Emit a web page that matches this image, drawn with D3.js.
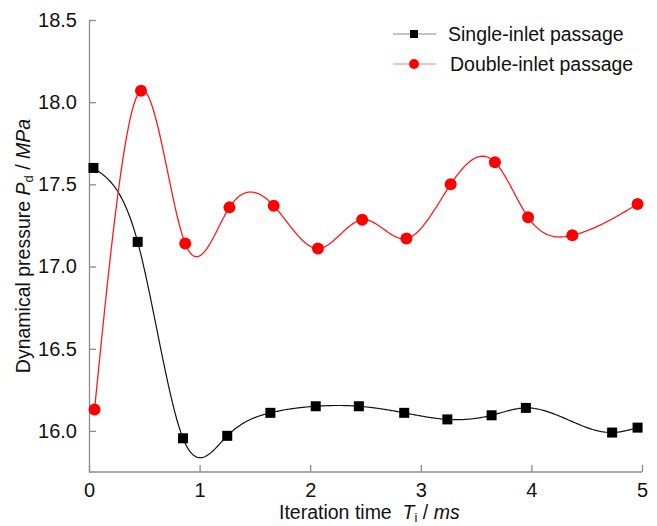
<!DOCTYPE html>
<html><head><meta charset="utf-8">
<script src="https://cdn.jsdelivr.net/npm/d3@7"></script>
<style>
body{margin:0;background:#fff;}
svg{font-family:"Liberation Sans",Arial,sans-serif;}
</style></head><body>
<svg id="c" width="657" height="526"></svg>
<script>
const singleX = [0.04,0.44,0.85,1.25,1.64,2.05,2.44,2.85,3.24,3.64,3.95,4.73,4.96];
const singleY = [17.60,17.15,15.955,15.97,16.11,16.15,16.15,16.11,16.07,16.095,16.14,15.99,16.02];
const doubleX = [0.05,0.47,0.87,1.27,1.67,2.07,2.47,2.87,3.27,3.67,3.97,4.37,4.96];
const doubleY = [16.13,18.07,17.14,17.36,17.37,17.11,17.285,17.17,17.50,17.635,17.30,17.19,17.38];
const xTicks = [0,1,2,3,4,5];
const yTicks = [16.0,16.5,17.0,17.5,18.0,18.5];
const seriesNames = ["Single-inlet passage","Double-inlet passage"];

const svg = d3.select("#c");
const x = d3.scaleLinear().domain([0,5]).range([89,642]);
const y = d3.scaleLinear().domain([15.75,18.5]).range([472,20]);
const axisColor = "#8c8c8c";
const FS = "19.5px";

// natural cubic spline y(x)
function spline(xs, ys){
  const n = xs.length;
  const h = [], a = [], l = [1], mu = [0], z = [0], c = new Array(n).fill(0), b = [], d = [];
  for(let i=0;i<n-1;i++) h[i] = xs[i+1]-xs[i];
  for(let i=1;i<n-1;i++) a[i] = 3/h[i]*(ys[i+1]-ys[i]) - 3/h[i-1]*(ys[i]-ys[i-1]);
  for(let i=1;i<n-1;i++){
    l[i] = 2*(xs[i+1]-xs[i-1]) - h[i-1]*mu[i-1];
    mu[i] = h[i]/l[i];
    z[i] = (a[i]-h[i-1]*z[i-1])/l[i];
  }
  l[n-1]=1; z[n-1]=0; c[n-1]=0;
  for(let j=n-2;j>=0;j--){
    c[j] = z[j]-mu[j]*c[j+1];
    b[j] = (ys[j+1]-ys[j])/h[j] - h[j]*(c[j+1]+2*c[j])/3;
    d[j] = (c[j+1]-c[j])/(3*h[j]);
  }
  const pts = [];
  for(let j=0;j<n-1;j++){
    const steps = 40;
    for(let k=0;k<=steps;k++){
      if(j>0 && k===0) continue;
      const t = h[j]*k/steps;
      pts.push([xs[j]+t, ys[j]+b[j]*t+c[j]*t*t+d[j]*t*t*t]);
    }
  }
  return pts;
}

// axes
const xAxis = d3.axisBottom(x).tickValues(xTicks).tickSizeInner(-7).tickSizeOuter(0).tickPadding(11).tickFormat(d3.format("d"));
const gx = svg.append("g").attr("transform","translate(0,472)").call(xAxis);
const yAxis = d3.axisLeft(y).tickValues(yTicks).tickSizeInner(-7).tickSizeOuter(0).tickPadding(12).tickFormat(d3.format(".1f"));
const gy = svg.append("g").attr("transform","translate(89,0)").call(yAxis);
[gx,gy].forEach(g=>{
  g.select(".domain").attr("stroke",axisColor).attr("stroke-width",1.3);
  g.selectAll(".tick line").attr("stroke",axisColor).attr("stroke-width",1.3);
  g.selectAll(".tick text").attr("fill","#111").style("font-size","20px").style("font-family","'Liberation Sans',Arial,sans-serif");
});
gx.select(".domain").attr("d","M89,0H642");

const line = d3.line().x(d=>x(d[0])).y(d=>y(d[1]));

svg.append("path").attr("d",line(spline(singleX,singleY))).attr("fill","none").attr("stroke","#111").attr("stroke-width",1.2);
svg.append("path").attr("d",line(spline(doubleX,doubleY))).attr("fill","none").attr("stroke","#ff1a1a").attr("stroke-width",1.3);

svg.append("g").selectAll("rect").data(singleX.map((v,i)=>[v,singleY[i]])).join("rect")
  .attr("x",d=>x(d[0])-5).attr("y",d=>y(d[1])-5).attr("width",10).attr("height",10).attr("fill","#000");
svg.append("g").selectAll("circle").data(doubleX.map((v,i)=>[v,doubleY[i]])).join("circle")
  .attr("cx",d=>x(d[0])).attr("cy",d=>y(d[1])).attr("r",6).attr("fill","#ff0000");

// legend
const lg = svg.append("g");
lg.append("line").attr("x1",393).attr("x2",436).attr("y1",34).attr("y2",34).attr("stroke","#888").attr("stroke-width",1);
lg.append("rect").attr("x",410).attr("y",30).attr("width",8).attr("height",8).attr("fill","#000");
lg.append("text").attr("x",448).attr("y",41).text(seriesNames[0]).style("font-size",FS).attr("fill","#111");
lg.append("line").attr("x1",393).attr("x2",436).attr("y1",64).attr("y2",64).attr("stroke","#f08080").attr("stroke-width",1);
lg.append("circle").attr("cx",414).attr("cy",64).attr("r",5).attr("fill","#ff0000");
lg.append("text").attr("x",450).attr("y",71).text(seriesNames[1]).style("font-size",FS).attr("fill","#111");

// x label
const xl = svg.append("text").attr("x",279).attr("y",519).style("font-size",FS).attr("fill","#111");
xl.append("tspan").text("Iteration time\u00a0\u00a0");
xl.append("tspan").text("T").style("font-style","italic");
xl.append("tspan").text("i").style("font-size","13px").attr("dy",3);
xl.append("tspan").text("\u00a0/ ").attr("dy",-3);
xl.append("tspan").text("ms").style("font-style","italic");

// y label
const yl = svg.append("text").attr("transform","translate(30,246) rotate(-90)").attr("text-anchor","middle").style("font-size",FS).attr("fill","#111");
yl.append("tspan").text("Dynamical pressure ");
yl.append("tspan").text("P").style("font-style","italic");
yl.append("tspan").text("d").style("font-size","13px").attr("dy",3);
yl.append("tspan").text(" / ").attr("dy",-3);
yl.append("tspan").text("MPa").style("font-style","italic");
</script>
</body></html>
